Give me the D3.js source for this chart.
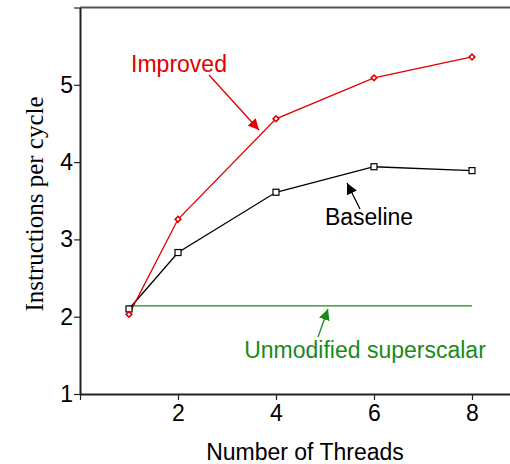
<!DOCTYPE html>
<html>
<head>
<meta charset="utf-8">
<script src="https://cdn.jsdelivr.net/npm/d3@7"></script>
<style>
  body { margin: 0; background: #fff; }
  svg { display: block; }
</style>
</head>
<body>
<svg id="chart"></svg>
<script>
// IPC vs thread count
var threads = [1, 2, 4, 6, 8];
var improved = [2.03, 3.26, 4.56, 5.09, 5.36];
var baseline = [2.10, 2.83, 3.61, 3.94, 3.89];
var unmodifiedThreads = [1, 8];
var unmodified = [2.14, 2.14];
var xTicks = [0, 2, 4, 6, 8];
var yTicks = [1, 2, 3, 4, 5, 6];

var width = 510;
var height = 464;

var xScale = d3.scaleLinear()
               .domain([0, 9])
               .range([80, 521]);

var yScale = d3.scaleLinear()
               .domain([1, 6])
               .range([394, 7.5]);

var svg = d3.select("#chart")
    .attr("width", width)
    .attr("height", height);

var xAxis = d3.axisBottom(xScale)
              .tickValues(xTicks)
              .tickFormat(d => d === 0 ? "" : d)
              .tickSize(6)
              .tickPadding(5)
              .tickSizeOuter(0);

var yAxis = d3.axisLeft(yScale)
              .tickValues(yTicks)
              .tickFormat(d => d === 6 ? "" : d)
              .tickSize(6)
              .tickPadding(1)
              .tickSizeOuter(0);

// top frame line
svg.append("line")
    .attr("x1", xScale(0))
    .attr("x2", xScale(9))
    .attr("y1", yScale(6))
    .attr("y2", yScale(6))
    .attr("stroke", "#555")
    .attr("stroke-width", 2);

var gx = svg.append("g")
    .attr("transform", "translate(0," + yScale(1) + ")")
    .call(xAxis);

var gy = svg.append("g")
    .attr("transform", "translate(" + xScale(0) + ",0)")
    .call(yAxis);

[gx, gy].forEach(function(g) {
  g.select(".domain").attr("stroke", "#222").attr("stroke-width", 2);
  g.selectAll(".tick line").attr("stroke", "#222").attr("stroke-width", 1.2);
  g.selectAll(".tick text")
    .attr("fill", "#000")
    .style("font-family", "Liberation Sans, Arial, sans-serif")
    .style("font-size", "23px");
});

var line = d3.line()
    .x(d => xScale(d[0]))
    .y(d => yScale(d[1]));

// unmodified superscalar
svg.append("path")
    .datum(d3.zip(unmodifiedThreads, unmodified))
    .attr("d", line)
    .attr("fill", "none")
    .attr("stroke", "#1a8a1a")
    .attr("stroke-width", 1.3);

// baseline
svg.append("path")
    .datum(d3.zip(threads, baseline))
    .attr("d", line)
    .attr("fill", "none")
    .attr("stroke", "#000")
    .attr("stroke-width", 1.3);

// improved
svg.append("path")
    .datum(d3.zip(threads, improved))
    .attr("d", line)
    .attr("fill", "none")
    .attr("stroke", "#e00000")
    .attr("stroke-width", 1.3);

svg.append("g")
  .selectAll("rect")
    .data(d3.zip(threads, baseline))
    .join("rect")
    .attr("x", d => xScale(d[0]) - 3)
    .attr("y", d => yScale(d[1]) - 3)
    .attr("width", 6)
    .attr("height", 6)
    .attr("fill", "#fff")
    .attr("stroke", "#000")
    .attr("stroke-width", 1.2);

svg.append("g")
  .selectAll("rect")
    .data(d3.zip(threads, improved))
    .join("rect")
    .attr("x", -2)
    .attr("y", -2)
    .attr("width", 4)
    .attr("height", 4)
    .attr("transform", d => `translate(${xScale(d[0])},${yScale(d[1])}) rotate(45)`)
    .attr("fill", "#fff")
    .attr("stroke", "#e00000")
    .attr("stroke-width", 1.6);

// annotations
var defs = svg.append("defs");
[["red", "#e00000"], ["black", "#000"], ["green", "#1a8a1a"]].forEach(function(c) {
  defs.append("marker")
      .attr("id", "arrow-" + c[0])
      .attr("viewBox", "0 0 10 10")
      .attr("refX", 10)
      .attr("refY", 5)
      .attr("markerWidth", 11)
      .attr("markerHeight", 11)
      .attr("markerUnits", "userSpaceOnUse")
      .attr("orient", "auto")
    .append("path")
      .attr("d", "M0,0L10,5L0,10Z")
      .attr("fill", c[1]);
});

var notes = [
  {text: "Improved", x: 179, y: 72, color: "#e00000", id: "red", from: [209, 75], to: [259, 130]},
  {text: "Baseline", x: 369, y: 225, color: "#000", id: "black", from: [360, 209], to: [347, 183]},
  {text: "Unmodified superscalar", x: 365, y: 358, color: "#1a8a1a", id: "green", from: [318, 337], to: [328, 309]}
];

notes.forEach(function(n) {
  svg.append("line")
      .attr("x1", n.from[0])
      .attr("y1", n.from[1])
      .attr("x2", n.to[0])
      .attr("y2", n.to[1])
      .attr("stroke", n.color)
      .attr("stroke-width", 1.3)
      .attr("marker-end", "url(#arrow-" + n.id + ")");
  svg.append("text")
      .attr("x", n.x)
      .attr("y", n.y)
      .attr("text-anchor", "middle")
      .attr("fill", n.color)
      .style("font-family", "Liberation Sans, Arial, sans-serif")
      .style("font-size", "23px")
      .text(n.text);
});

// axis titles
svg.append("text")
    .attr("x", 305)
    .attr("y", 460)
    .attr("text-anchor", "middle")
    .style("font-family", "Liberation Sans, Arial, sans-serif")
    .style("font-size", "23px")
    .text("Number of Threads");

svg.append("text")
    .attr("transform", "translate(43,204) rotate(-90)")
    .attr("text-anchor", "middle")
    .style("font-family", "Liberation Serif, Times New Roman, serif")
    .style("font-size", "25px")
    .text("Instructions per cycle");
</script>
</body>
</html>
